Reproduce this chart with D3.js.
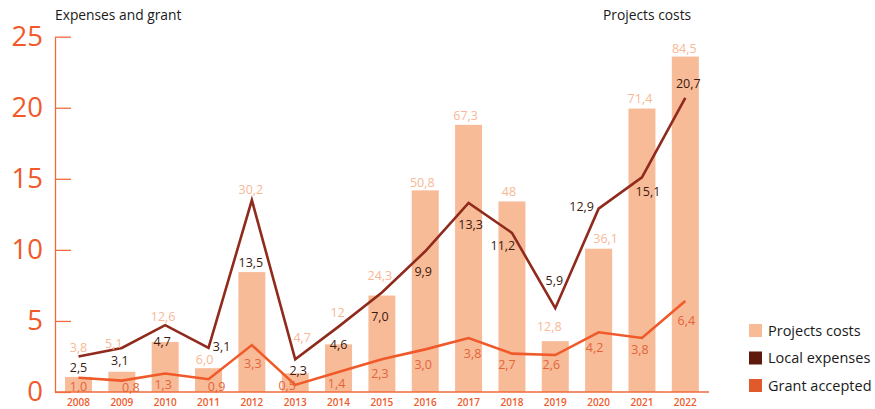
<!DOCTYPE html>
<html><head><meta charset="utf-8">
<script src="https://cdn.jsdelivr.net/npm/d3@7"></script>
<style>
body{margin:0;background:#fff;}
svg{display:block;font-family:"Open Sans",Lato,sans-serif;}
</style></head><body>
<svg id="c" width="875" height="409"></svg>
<script>
const years = [2008,2009,2010,2011,2012,2013,2014,2015,2016,2017,2018,2019,2020,2021,2022];
const projectCosts = [3.8,5.1,12.6,6.0,30.2,4.7,12,24.3,50.8,67.3,48,12.8,36.1,71.4,84.5];
const localExpenses = [2.5,3.1,4.7,3.1,13.5,2.3,4.6,7.0,9.9,13.3,11.2,5.9,12.9,15.1,20.7];
const grantAccepted = [1.0,0.8,1.3,0.9,3.3,0.5,1.4,2.3,3.0,3.8,2.7,2.6,4.2,3.8,6.4];
const leftTicks = [0,5,10,15,20,25];
const legendNames = ["Projects costs","Local expenses","Grant accepted"];

// label offsets (pixels) relative to each mark's anchor
const costLabelOff = [[0,-29],[-8,-28],[-2,-25],[-4,-9],[-1,-82],[7,-36],[-1,-32],[-2,-20],[-3,-8],[-3,-9],[-3,-10],[-6,-15],[7,-10],[-2,-10],[-1,-8]];
const localLabelOff = [[0,11],[-2,13],[-3,16],[13,-1],[-1,62],[3,11],[0,18],[-2,24],[-2,20],[2,22],[-9,13],[-1,-28],[-17,-2],[6,14],[3,-14]];
const grantLabelOff = [[0,9],[9,7],[-2,11],[8,7],[1,19],[-8,1],[-2,12],[-2,14],[-2,15],[4,16],[-5,11],[-4,10],[-4,15],[-2,12],[1,20]];

const fmt = v => (Number.isInteger(v) && [12,48].includes(v)) ? String(v) : v.toFixed(1).replace(".", ",");

const svg = d3.select("#c");
const x0 = 55, yBottom = 392, yTop = 36.7;
const xc = d3.scalePoint().domain(years).range([78.5, 685.3]);
const yL = d3.scaleLinear().domain([0,25]).range([yBottom, yTop]);
const yB = d3.scaleLinear().domain([0,89.5]).range([yBottom, yTop]);
const barW = 27;

const cBar = "#f8bb98", cLocal = "#8f2a1c", cGrant = "#f05a2a";
const cAxis = "#f26b3e";

// bars
svg.append("g").selectAll("rect").data(years).join("rect")
  .attr("x", d => xc(d) - barW/2)
  .attr("y", (d,i) => yB(projectCosts[i]))
  .attr("width", barW)
  .attr("height", (d,i) => yBottom - yB(projectCosts[i]))
  .attr("fill", cBar);

// lines
const lineGen = arr => d3.line().x((d,i) => xc(years[i])).y(d => yL(d))(arr);
svg.append("path").attr("d", lineGen(localExpenses)).attr("fill","none")
  .attr("stroke", cLocal).attr("stroke-width", 2.6).attr("stroke-linejoin","miter");
svg.append("path").attr("d", lineGen(grantAccepted)).attr("fill","none")
  .attr("stroke", cGrant).attr("stroke-width", 2.6).attr("stroke-linejoin","miter");

// left axis
const ax = svg.append("g").attr("transform", `translate(${x0},0)`)
  .call(d3.axisLeft(yL).tickValues(leftTicks).tickSizeInner(-16).tickSizeOuter(0).tickPadding(12));
ax.selectAll("path,line").attr("stroke", cAxis).attr("stroke-width", 1.3);
ax.selectAll("text").attr("fill", cGrant).attr("font-size", 27.5).attr("font-weight", 400)
  .attr("font-family", "'Open Sans', sans-serif");

// bottom axis
svg.append("line").attr("x1", x0).attr("x2", 709).attr("y1", yBottom).attr("y2", yBottom)
  .attr("stroke", cAxis).attr("stroke-width", 1.5);
svg.append("g").selectAll("text").data(years).join("text")
  .attr("x", d => xc(d)).attr("y", 402).attr("dy", "0.35em")
  .attr("text-anchor", "middle").attr("font-size", 10).attr("font-weight", 600)
  .attr("fill", cGrant).text(d => d);

// value labels
function labels(vals, scale, off, color, weight) {
  svg.append("g").selectAll("text").data(vals).join("text")
    .attr("x", (d,i) => xc(years[i]) + off[i][0])
    .attr("y", (d,i) => scale(d) + off[i][1])
    .attr("dy", "0.35em").attr("text-anchor", "middle")
    .attr("font-size", 12.5).attr("font-weight", weight)
    .attr("fill", color).text(d => fmt(d));
}
labels(projectCosts, yB, costLabelOff, "#f8b896", 400);
labels(localExpenses, yL, localLabelOff, "#3b1a10", 400);
labels(grantAccepted, yL, grantLabelOff, "#e4643a", 400);

// titles
svg.append("text").attr("x", 55).attr("y", 20).attr("font-size", 13.8).attr("fill", "#1a1a1a").text("Expenses and grant");
svg.append("text").attr("x", 603).attr("y", 20).attr("font-size", 13.8).attr("fill", "#1a1a1a").text("Projects costs");

// legend
const legColors = [cBar, "#5e1a0c", "#e05a2c"];
const lg = svg.append("g").selectAll("g").data(legendNames).join("g")
  .attr("transform", (d,i) => `translate(749,${324 + i*27.5})`);
lg.append("rect").attr("width", 13).attr("height", 13).attr("fill", (d,i) => legColors[i]);
lg.append("text").attr("x", 19).attr("y", 6.5).attr("dy", "0.35em").attr("font-size", 14.5)
  .attr("fill", "#1a1a1a").text(d => d);
</script>
</body></html>
